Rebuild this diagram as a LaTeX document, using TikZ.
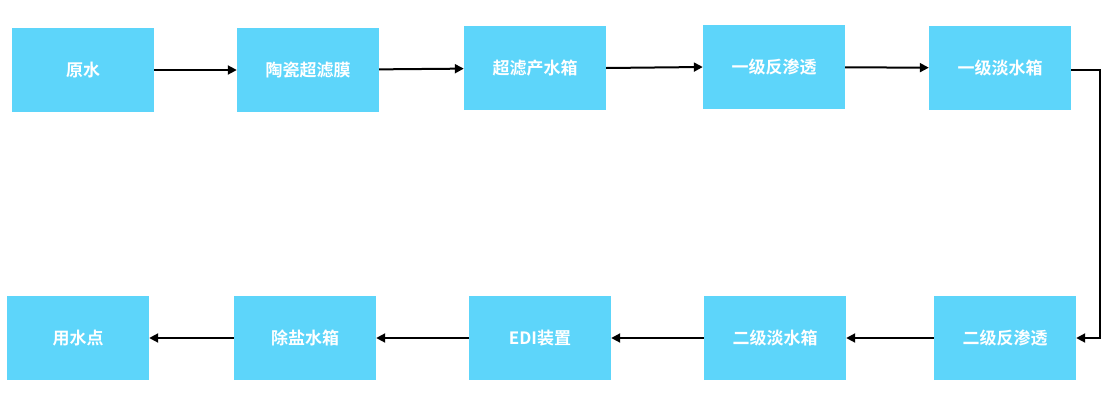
\documentclass[tikz,border=0pt]{standalone}
\usepackage{fontspec}
\newfontfamily\cjk{Noto Sans CJK SC}[BoldFont={Noto Sans CJK SC Bold}]
\usetikzlibrary{arrows.meta}
\definecolor{boxc}{HTML}{5DD5FA}
\begin{document}
\begin{tikzpicture}[x=1pt,y=-1pt,
  box/.style={fill=boxc,draw=none,minimum width=142pt,minimum height=84pt,inner sep=0pt,text=white,font=\cjk\bfseries\fontsize{17}{20}\selectfont},
  arr/.style={-{Triangle[length=9pt,width=9pt]},line width=2pt,black}]
\useasboundingbox[fill=white] (0,0) rectangle (1112,407);
\node[box] (a) at (83,70) {原水};
\node[box] (b) at (308,70) {陶瓷超滤膜};
\node[box] (c) at (535,68) {超滤产水箱};
\node[box] (d) at (774,67) {一级反渗透};
\node[box] (e) at (1000,68) {一级淡水箱};
\node[box] (f) at (1005,338) {二级反渗透};
\node[box] (g) at (775,338) {二级淡水箱};
\node[box] (h) at (540,338) {EDI装置};
\node[box] (i) at (305,338) {除盐水箱};
\node[box] (j) at (78,338) {用水点};
\draw[arr] (a) -- (b);
\draw[arr] (b) -- (c);
\draw[arr] (c.east) -- (d.west);
\draw[arr] (d) -- (e);
\coordinate (k1) at (1100,70);
\coordinate (k2) at (1100,338);
\draw[arr] (e.east |- k1) -- (k1) -- (k2) -- (f.east);
\draw[arr] (f) -- (g);
\draw[arr] (g) -- (h);
\draw[arr] (h) -- (i);
\draw[arr] (i) -- (j);
\end{tikzpicture}
\end{document}
